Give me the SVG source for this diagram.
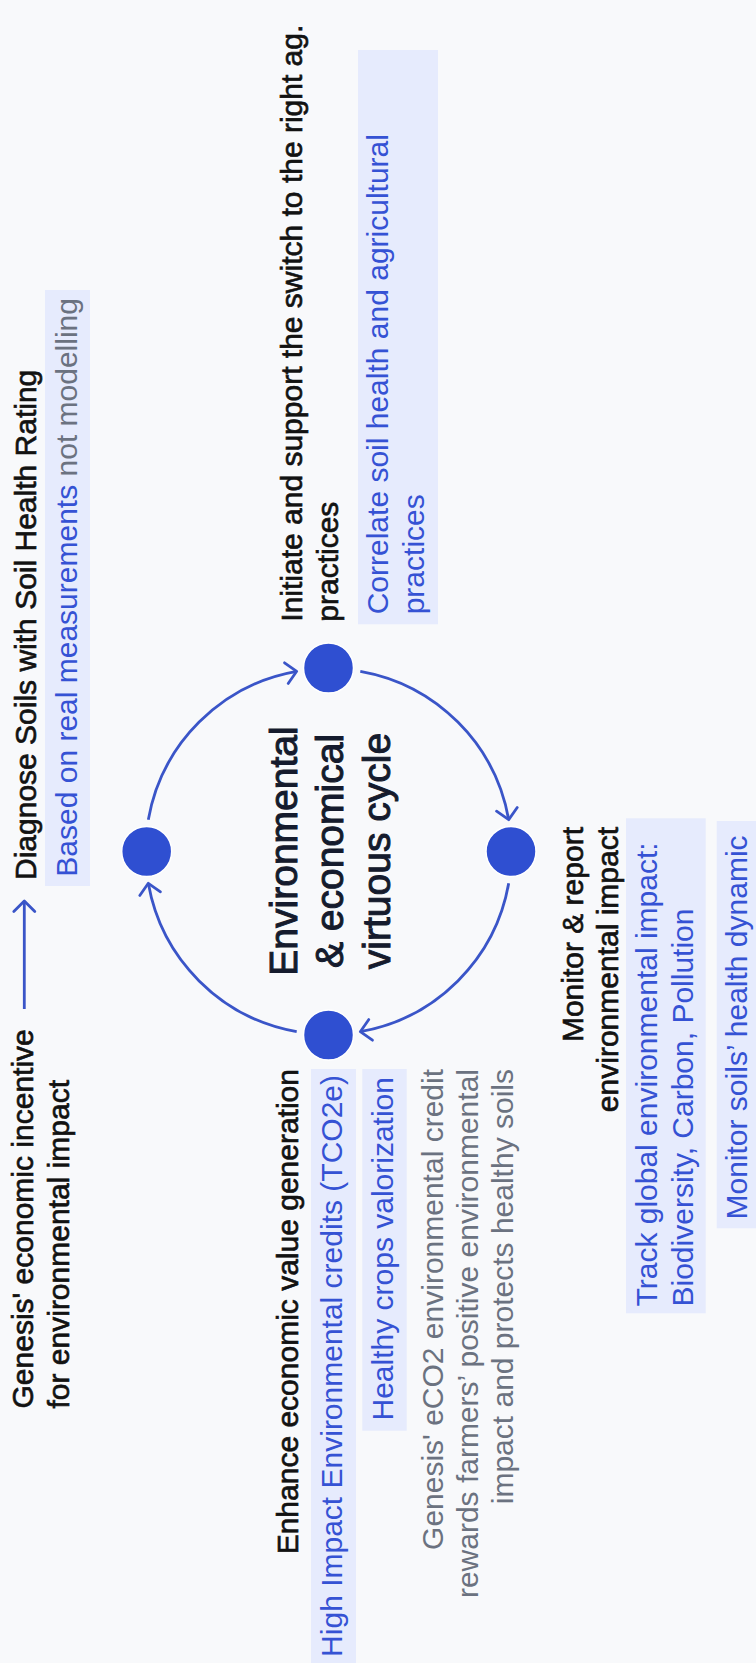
<svg xmlns="http://www.w3.org/2000/svg" width="756" height="1663" viewBox="0 0 756 1663">
<style>
.h{font-family:"Liberation Sans",Arial,sans-serif;font-size:30px;fill:#121212;stroke:#121212;stroke-width:0.65px}
.t{font-family:"Liberation Sans",Arial,sans-serif;font-size:30px}
.blue{fill:#3552d4}
.gray{fill:#6b7280}
.box{fill:#e6ebfd}
.ttl{font-family:"Liberation Sans",Arial,sans-serif;font-size:39px;fill:#151b2d;stroke:#151b2d;stroke-width:1px;text-anchor:middle}
.end{text-anchor:end}
.node{fill:#2f4fd1;stroke:#ffffff;stroke-width:1.5}
.conn{fill:none;stroke:#3a55c8;stroke-width:2.8;marker-end:url(#ah)}
</style>
<defs>
<marker id="ah" markerUnits="userSpaceOnUse" markerWidth="26" markerHeight="26" viewBox="-13 -13 26 26" refX="0" refY="0" orient="auto" overflow="visible">
<path d="M-10.5,-10.5 L0,0 L-10.5,10.5" fill="none" stroke="#3a55c8" stroke-width="2.8" stroke-linecap="round" stroke-linejoin="round"/>
</marker>
</defs>
<rect x="0" y="0" width="756" height="1663" fill="#f8f9fb"/>

<g id="connectors">
<path class="conn" d="M24.3,1009 L24.3,901"/>
<path class="conn" d="M148.3,819.7 A183,183 0 0 1 296.7,671.3"/>
<path class="conn" d="M360.3,671.3 A183,183 0 0 1 508.7,819.7"/>
<path class="conn" d="M508.7,883.3 A183,183 0 0 1 360.3,1031.7"/>
<path class="conn" d="M296.7,1031.7 A183,183 0 0 1 148.3,883.3"/>
</g>

<g id="intro" transform="translate(0 1663) rotate(-90)">
<text class="h" x="254.5" y="33.3">Genesis' economic incentive</text>
<text class="h" x="254.5" y="68.5">for environmental impact</text>
</g>

<g id="title" transform="translate(0 1663) rotate(-90)">
<text class="ttl" x="812" y="296.5">Environmental</text>
<text class="ttl" x="812" y="343">&amp; economical</text>
<text class="ttl" x="812" y="390">virtuous cycle</text>
</g>

<g id="node-diagnose" transform="translate(0 1663) rotate(-90)">
<circle class="node" cx="811.5" cy="146.7" r="25"/>
<text class="h" x="783" y="36">Diagnose Soils with Soil Health Rating</text>
<rect class="box" x="777" y="45" width="596" height="45"/>
<text class="t" x="786.3" y="77.3"><tspan class="blue">Based on real measurements</tspan><tspan class="gray"> not modelling</tspan></text>
</g>

<g id="node-initiate" transform="translate(0 1663) rotate(-90)">
<circle class="node" cx="995" cy="328.5" r="25"/>
<text class="h" x="1041.3" y="302.3">Initiate and support the switch to the right ag.</text>
<text class="h" x="1041.3" y="337.7">practices</text>
<rect class="box" x="1038.7" y="358" width="574.3" height="80"/>
<text class="t blue" x="1048.7" y="388.3">Correlate soil health and agricultural</text>
<text class="t blue" x="1048.7" y="423.7">practices</text>
</g>

<g id="node-monitor" transform="translate(0 1663) rotate(-90)">
<circle class="node" cx="811.5" cy="511" r="25"/>
<text class="h end" x="836" y="583">Monitor &amp; report</text>
<text class="h end" x="836" y="618.4">environmental impact</text>
<rect class="box" x="349.7" y="626" width="495" height="79.7"/>
<text class="t blue" x="356.5" y="657.3">Track global environmental impact:</text>
<text class="t blue" x="356.5" y="692.7">Biodiversity, Carbon, Pollution</text>
<rect class="box" x="434.7" y="716.7" width="407.3" height="45"/>
<text class="t blue" x="443.5" y="747.3">Monitor soils’ health dynamic</text>
</g>

<g id="node-enhance" transform="translate(0 1663) rotate(-90)">
<circle class="node" cx="628" cy="328.5" r="25"/>
<text class="h end" x="594" y="297.7">Enhance economic value generation</text>
<rect class="box" x="-10" y="311" width="604" height="45"/>
<text class="t blue end" x="588" y="341.7">High Impact Environmental credits (TCO2e)</text>
<rect class="box" x="232.3" y="362.3" width="361.7" height="44.4"/>
<text class="t blue end" x="586" y="392.7">Healthy crops valorization</text>
<text class="t gray end" x="594" y="442.7">Genesis' eCO2 environmental credit</text>
<text class="t gray end" x="594" y="478">rewards farmers’ positive environmental</text>
<text class="t gray end" x="594" y="513.3">impact and protects healthy soils</text>
</g>
</svg>
